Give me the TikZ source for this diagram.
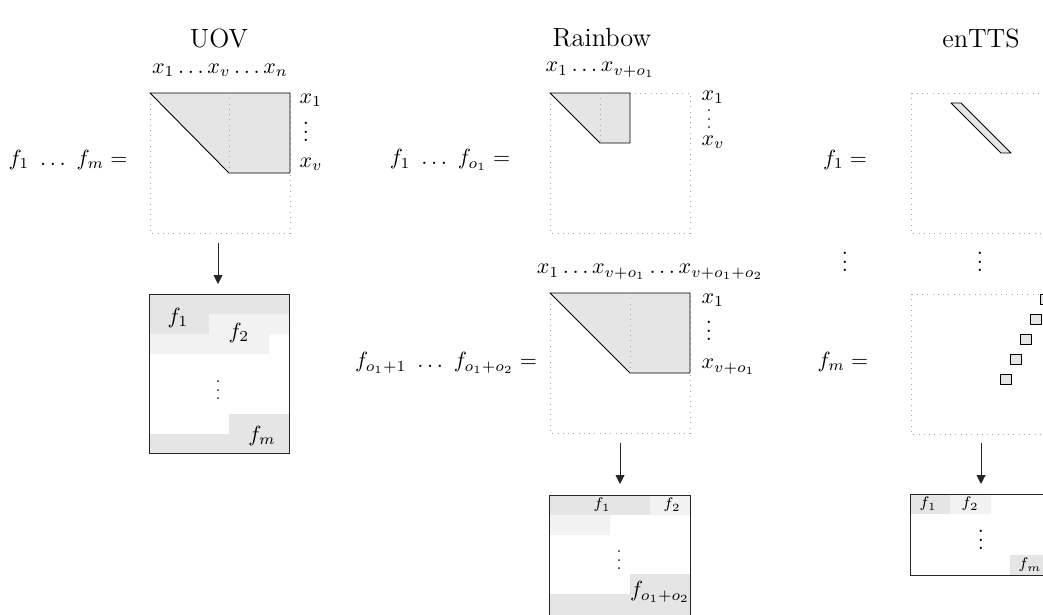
\documentclass[tikz,border=0pt]{standalone}
\usepackage{amsmath,amssymb}
\usetikzlibrary{arrows.meta}
\newcommand{\vd}{\raisebox{0pt}[9pt][0pt]{$\vdots$}}
\tikzset{
  mat/.style   ={draw=gray!70,dotted},
  part/.style  ={draw,fill=gray!20,line join=round},
  sep/.style   ={draw=gray!70,dotted},
  dk/.style    ={fill=gray!20},
  lt/.style    ={fill=gray!10},
  res/.style   ={draw=black!85},
  ar/.style    ={-{Triangle[length=4pt,width=4pt]},draw=black!85},
  ttl/.style   ={font=\large,inner sep=1pt},
  lbl/.style   ={inner sep=1pt},
  slbl/.style  ={font=\scriptsize,inner sep=1pt},
}

\begin{document}
\begin{tikzpicture}[x=0.016cm,y=-0.016cm]
  \clip (0,0) rectangle (1043,614);
  % titles
  \node[ttl] (tUOV) at (219,38){UOV};
  \node[ttl] (tRB)  at (602,38){Rainbow};
  \node[ttl] (tTTS) at (981,38){enTTS};

  % UOV
  \draw[mat] (150,93) rectangle (290,233);
  \draw[part] (150,93) -- (290,93) -- (290,173) -- (229,173) -- cycle;
  \draw[sep] (229,93) -- (229,173);
  \node[lbl] (uovX) at (220,70){$x_1\dots x_v\dots x_n$};
  \node[lbl,anchor=west] (uovR1) at (297,100){$x_1$};
  \node[lbl] (uovRd) at (306,132){\vd};
  \node[lbl,anchor=west] (uovRv) at (297,164){$x_v$};
  \node[lbl] (uovF) at (68,160){$f_1\ \dots\ f_m =$};
  \coordinate (uovA) at (218,243); \coordinate (uovB) at (218,284);
  \draw[ar] (uovA) -- (uovB);
  \fill[dk] (149,294) rectangle (289,314) (149,314) rectangle (209,334);
  \fill[lt] (209,314) rectangle (289,334) (149,334) rectangle (269,354);
  \fill[dk] (229,414) rectangle (289,434) (149,434) rectangle (289,453);
  \draw[res] (149,294) rectangle (289,453);
  \node[lbl] (uovP1) at (178,318){$f_1$};
  \node[lbl] (uovP2) at (239,333){$f_2$};
  \node[slbl] (uovPd) at (218,390){\vd};
  \node[lbl] (uovPm) at (262,436){$f_m$};

  % Rainbow, first layer
  \draw[mat] (550,93) rectangle (690,233);
  \draw[part] (550,93) -- (630,93) -- (630,143) -- (600,143) -- cycle;
  \draw[sep] (600,93) -- (600,143);
  \node[lbl,anchor=west] (rbX) at (543,70){$x_1\dots x_{v+o_1}$};
  \node[lbl,anchor=west] (rbR1) at (699,97){$x_1$};
  \node[slbl] (rbRd) at (709,119){\vd};
  \node[lbl,anchor=west] (rbRv) at (699,142){$x_v$};
  \node[lbl] (rbF) at (450,160){$f_1\ \dots\ f_{o_1} =$};

  % Rainbow, second layer
  \draw[mat] (550,293) rectangle (690,433);
  \draw[part] (550,293) -- (690,293) -- (690,373) -- (630,373) -- cycle;
  \draw[sep] (630,293) -- (630,373);
  \node[lbl] (rbX2) at (650,272){$x_1\dots x_{v+o_1}\dots x_{v+o_1+o_2}$};
  \node[lbl,anchor=west] (rbS1) at (699,300){$x_1$};
  \node[lbl] (rbSd) at (709,331){\vd};
  \node[lbl,anchor=west] (rbSv) at (699,367){$x_{v+o_1}$};
  \node[lbl] (rbF2) at (446,363){$f_{o_1+1}\ \dots\ f_{o_1+o_2} =$};
  \coordinate (rbA) at (620,443); \coordinate (rbB) at (620,484);
  \draw[ar] (rbA) -- (rbB);
  \fill[dk] (549,495) rectangle (650,515);
  \fill[lt] (650,495) rectangle (690,515) (549,515) rectangle (610,535);
  \fill[dk] (630,574) rectangle (690,594) (549,594) rectangle (690,640);
  \draw[res] (549,495) rectangle (690,640);
  \node[slbl] (rbP1) at (602,505){$f_1$};
  \node[slbl] (rbP2) at (672,505){$f_2$};
  \node[slbl] (rbPd) at (619,560){\vd};
  \node[lbl] (rbPm) at (660,592){$f_{o_1+o_2}$};

  % enTTS
  \draw[mat] (911,93) rectangle (1051,233);
  \draw[part] (951,103) -- (961,103) -- (1011,153) -- (1001,153) -- cycle;
  \node[lbl] (ttF1) at (845,160){$f_1 =$};
  \node[lbl] (ttFd) at (845,262){\vd};
  \node[lbl] (ttMd) at (980,262){\vd};
  \node[lbl] (ttFm) at (843,362){$f_m =$};
  \draw[mat] (911,294) rectangle (1051,434);
  \foreach \i in {0,...,4}
    \draw[part] (1000+10*\i,374-20*\i) rectangle ++(11,10);
  \coordinate (ttA) at (981,443); \coordinate (ttB) at (981,484);
  \draw[ar] (ttA) -- (ttB);
  \fill[dk] (910,494) rectangle (950,514);
  \fill[lt] (950,494) rectangle (991,514);
  \fill[dk] (1010,555) rectangle (1050,575);
  \draw[res] (910,494) rectangle (1050,575);
  \node[slbl] (ttP1) at (928,504){$f_1$};
  \node[slbl] (ttP2) at (970,504){$f_2$};
  \node[lbl] (ttPd) at (981,540){\vd};
  \node[slbl] (ttPm) at (1030,565){$f_m$};
\end{tikzpicture}
\end{document}
